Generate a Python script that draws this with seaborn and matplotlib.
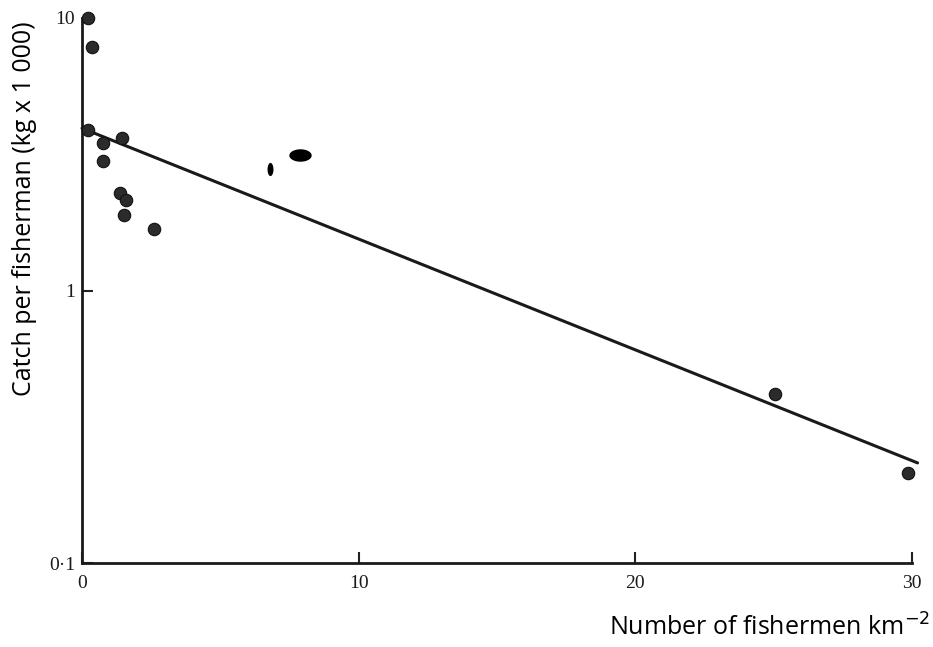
import matplotlib
matplotlib.use("Agg")
import matplotlib.pyplot as plt
import numpy as np
import pandas as pd
import seaborn as sns

# fishermen per km2 and catch per fisherman (kg x 1000)
density = [0.2, 0.36, 0.2, 1.45, 0.76, 0.76, 1.37, 1.59, 1.52, 2.6, 25.05, 29.86]
catch = [10.0, 7.8, 3.88, 3.63, 3.48, 2.99, 2.28, 2.15, 1.89, 1.68, 0.417, 0.214]

# two smudged points printed as ellipses
wide_x = [7.87]
wide_y = [3.14]
tall_x = [6.8]
tall_y = [2.79]

# fitted line end points
fit_x = [0.0, 30.2]
fit_y = [3.94, 0.233]

xticks = [0, 10, 20, 30]
xtick_labels = ["0", "10", "20", "30"]
yticks = [0.1, 1, 10]
ytick_labels = ["0·1", "1", "10"]

sns.set_style("white")
plt.rcParams["font.family"] = ["Liberation Serif", "DejaVu Sans"]
plt.rcParams["text.color"] = "black"

fig = plt.figure(figsize=(9.33, 6.47), dpi=100)
ax = fig.add_axes([82 / 933, 1 - 563 / 647, (912 - 82) / 933, (563 - 18) / 647])

df = pd.DataFrame({"x": density, "y": catch})
sns.scatterplot(data=df, x="x", y="y", ax=ax, s=80, color="#2b2b2b",
                edgecolor="#111111", linewidth=0.8, clip_on=False, zorder=3)

t = np.linspace(0, 2 * np.pi, 40)
wide = list(zip(1.8 * np.cos(t), np.sin(t)))
tall = list(zip(0.45 * np.cos(t), np.sin(t)))
sns.scatterplot(x=wide_x, y=wide_y, ax=ax, marker=wide, s=260, color="black",
                linewidth=0, zorder=3)
sns.scatterplot(x=tall_x, y=tall_y, ax=ax, marker=tall, s=90, color="black",
                linewidth=0, zorder=3)

sns.lineplot(x=fit_x, y=fit_y, ax=ax, color="#1a1a1a", linewidth=2.2, clip_on=False)

ax.set_yscale("log")
ax.set_xlim(0, 30)
ax.set_ylim(0.1, 10)
ax.set_xticks(xticks)
ax.set_xticklabels(xtick_labels, fontsize=14)
ax.set_yticks(yticks)
ax.set_yticklabels(ytick_labels, fontsize=14)
ax.yaxis.set_minor_locator(matplotlib.ticker.NullLocator())
ax.tick_params(axis="both", which="major", direction="in", length=8, width=1.5,
               color="#222222", labelcolor="#1a1a1a", bottom=True, left=True)
ax.tick_params(axis="x", pad=9)
ax.tick_params(axis="y", pad=5)
ax.set_xlabel("")
ax.set_ylabel("")

for side in ["top", "right"]:
    ax.spines[side].set_visible(False)
for side in ["left", "bottom"]:
    ax.spines[side].set_color("#1a1a1a")
    ax.spines[side].set_linewidth(2)

fig.text(930 / 933, 1 - 628 / 647, "Number of fishermen km$^{-2}$", ha="right", va="center",
         fontsize=18, color="black", family=["Open Sans", "DejaVu Sans"])
fig.text(25 / 933, 1 - 396 / 647, "Catch per fisherman (kg x 1 000)", rotation=90,
         ha="center", va="bottom", fontsize=18, color="black",
         family=["Open Sans", "DejaVu Sans"])

fig.savefig("out.png", dpi=100, facecolor="white")
